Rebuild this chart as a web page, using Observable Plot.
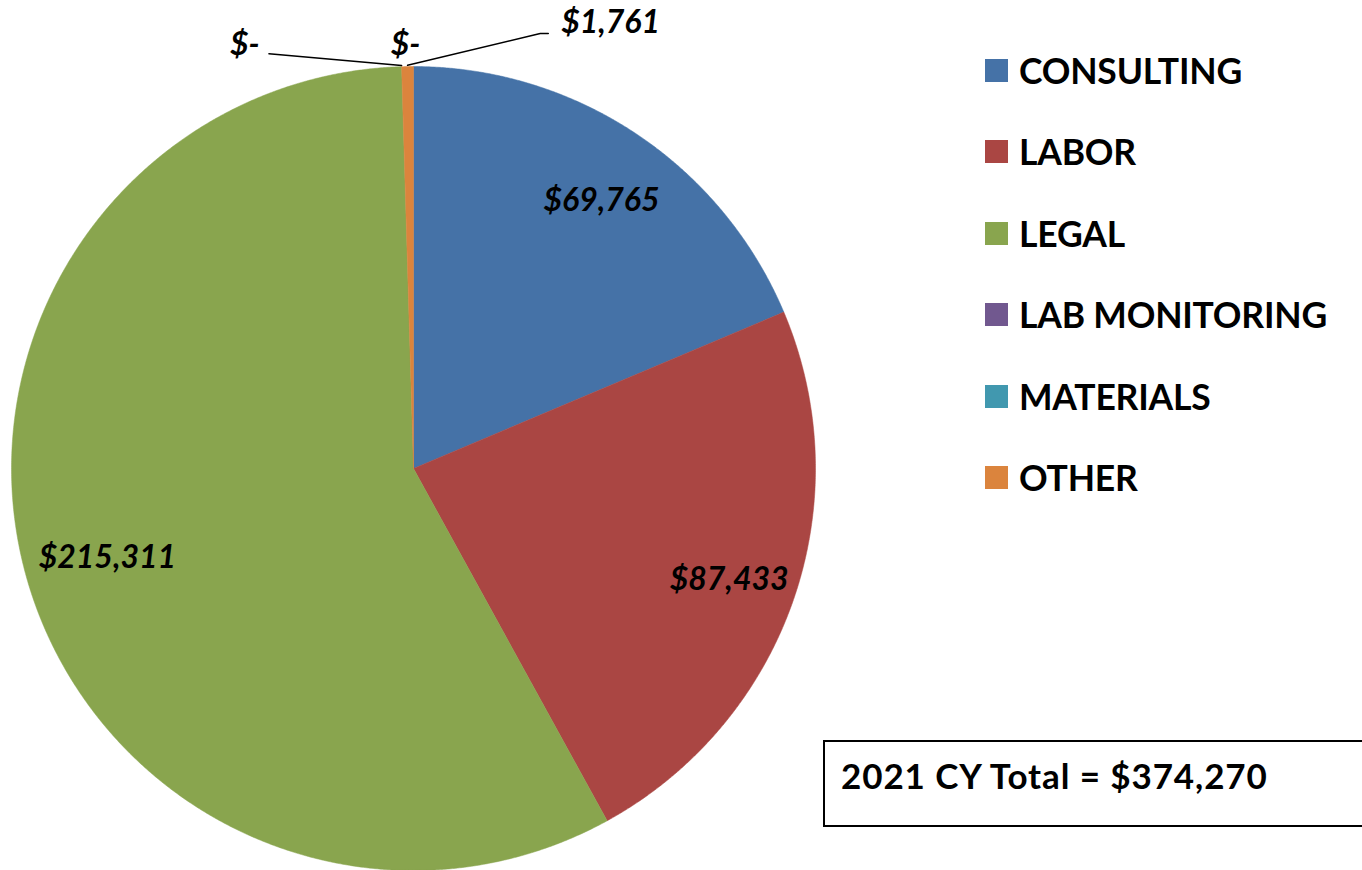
<!DOCTYPE html>
<html>
<head>
<meta charset="utf-8">
<script src="https://cdn.jsdelivr.net/npm/d3@7"></script>
<script src="https://cdn.jsdelivr.net/npm/@observablehq/plot@0.6"></script>
<style>
  body { margin: 0; background: #fff; }
  #wrap { position: relative; width: 1362px; height: 870px; overflow: hidden; font-family: Lato, "Open Sans", sans-serif; }
  #legend { position: absolute; left: 985px; top: 48px; }
  .item { display: flex; align-items: center; height: 81.5px; margin-top: 0; }
  .item .sw { width: 23px; height: 23px; margin-right: 11px; }
  .item span { font-weight: 700; font-size: 35.5px; color: #000; letter-spacing: -0.2px; }
  #total { position: absolute; left: 823px; top: 740px; width: 560px; height: 87px; border: 2px solid #000; box-sizing: border-box; }
  #total span { position: absolute; left: 16px; top: 12px; font-weight: 700; font-size: 35px; color: #000; letter-spacing: 0.9px; white-space: nowrap; }
</style>
</head>
<body>
<div id="wrap"></div>
<script>
const categories = ["CONSULTING", "LABOR", "LEGAL", "LAB MONITORING", "MATERIALS", "OTHER"];
const values = [69765, 87433, 215311, 0, 0, 1761];
const colors = ["#4572A7", "#AA4643", "#89A54E", "#71588F", "#4198AF", "#DB843D"];
const totalLabel = "2021 CY Total = ";

const W = 1362, H = 870, cx = 413, cy = 468, R = 402;
const fmt = v => v === 0 ? "$-" : "$" + d3.format(",")(v);

const total = d3.sum(values);
const pie = d3.pie().sort(null).value(d => d)(values);

// slice polygons in radius units
const poly = [];
pie.forEach((p, i) => {
  if (p.endAngle - p.startAngle <= 0) return;
  const c = categories[i];
  poly.push({cat: c, x: 0, y: 0});
  const n = Math.max(2, Math.ceil((p.endAngle - p.startAngle) / (Math.PI / 720)));
  for (let k = 0; k <= n; k++) {
    const a = p.startAngle + (p.endAngle - p.startAngle) * k / n;
    poly.push({cat: c, x: Math.sin(a), y: Math.cos(a)});
  }
  poly.push({cat: c, x: 0, y: 0});
});

// inside labels for large slices
const inside = pie.map((p, i) => ({p, i})).filter(d => d.p.value / total > 0.05).map(({p, i}) => {
  const a = (p.startAngle + p.endAngle) / 2;
  return {x: 0.81 * Math.sin(a) + 0.02, y: 0.81 * Math.cos(a) - 0.01, text: fmt(values[i])};
});

// outside labels for tiny slices (label offset from the rim point, in radius units)
const outsideLayout = {
  "LAB MONITORING": {dx: -0.39, dy: 0.0, leader: [[-0.33, 0.025]]},
  "MATERIALS":      {dx: 0.01, dy: 0.0, leader: null},
  "OTHER":          {dx: 0.505, dy: 0.055, leader: [[0.33, 0.075], [0.35, 0.075]]}
};
const outside = [], leaders = [];
pie.forEach((p, i) => {
  if (p.value / total > 0.05) return;
  const L = outsideLayout[categories[i]];
  const a = (p.startAngle + p.endAngle) / 2;
  const rx = Math.sin(a), ry = Math.cos(a);
  outside.push({x: rx + L.dx, y: ry + 0.055 + L.dy, text: fmt(values[i])});
  if (L.leader) {
    leaders.push({g: i, x: rx, y: ry + 0.003});
    L.leader.forEach(([ox, oy]) => leaders.push({g: i, x: rx + ox, y: ry + 0.007 + oy}));
  }
});

const chart = Plot.plot({
  width: W, height: H,
  margin: 0,
  x: {domain: [-cx / R, (W - cx) / R], axis: null},
  y: {domain: [-(H - cy) / R, cy / R], axis: null},
  color: {domain: categories, range: colors},
  marks: [
    Plot.line(poly, {x: "x", y: "y", z: "cat", fill: "cat", stroke: "cat", strokeWidth: 0.5, curve: "linear"}),
    Plot.line(leaders, {x: "x", y: "y", z: "g", stroke: "#000", strokeWidth: 1.5}),
    Plot.text(inside, {x: "x", y: "y", text: "text", fontSize: 32, fontWeight: 700, fontStyle: "italic", fill: "#000"}),
    Plot.text(outside, {x: "x", y: "y", text: "text", fontSize: 32, fontWeight: 700, fontStyle: "italic", fill: "#000"})
  ],
  style: {fontFamily: "Lato, 'Open Sans', sans-serif", background: "transparent"}
});

const wrap = document.getElementById("wrap");
wrap.appendChild(chart);

const legend = document.createElement("div");
legend.id = "legend";
categories.forEach((c, i) => {
  const it = document.createElement("div");
  it.className = "item";
  const sw = document.createElement("div");
  sw.className = "sw";
  sw.style.background = colors[i];
  const t = document.createElement("span");
  t.textContent = c;
  it.appendChild(sw); it.appendChild(t);
  legend.appendChild(it);
});
legend.style.top = (70 - 81.5 / 2) + "px";
wrap.appendChild(legend);

const box = document.createElement("div");
box.id = "total";
const bt = document.createElement("span");
bt.textContent = totalLabel + "$" + d3.format(",")(total);
box.appendChild(bt);
wrap.appendChild(box);
</script>
</body>
</html>
